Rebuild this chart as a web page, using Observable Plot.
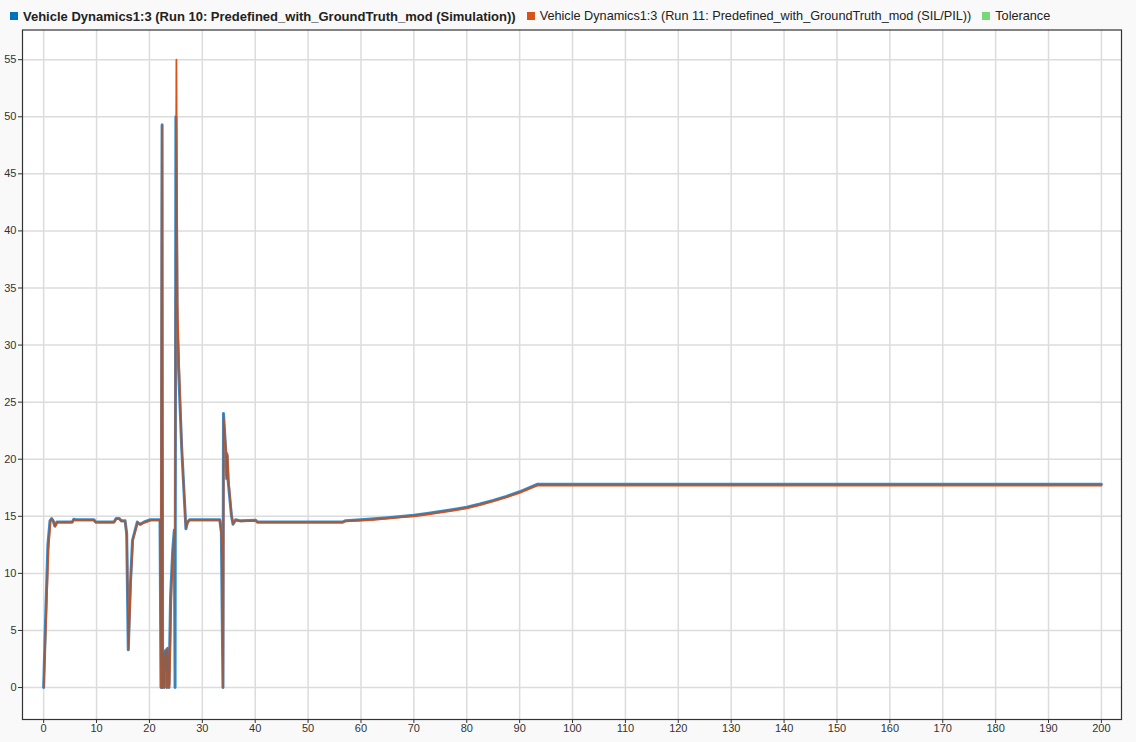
<!DOCTYPE html>
<html>
<head>
<meta charset="utf-8">
<script src="https://cdn.jsdelivr.net/npm/d3@7"></script>
<script src="https://cdn.jsdelivr.net/npm/@observablehq/plot@0.6"></script>
<style>
  html, body { margin: 0; padding: 0; background: #f9f9f9; }
  body { width: 1136px; height: 742px; overflow: hidden; font-family: "Liberation Sans", Arial, sans-serif; }
  #legend { height: 29px; display: flex; align-items: center; padding-left: 10px; font-size: 12.7px; color: #222; box-sizing: border-box; padding-top: 3px; }
  .item { display: flex; align-items: center; margin-right: 11px; white-space: nowrap; }
  .sw { width: 8px; height: 8px; margin-right: 5px; display: inline-block; }
  .bold { font-weight: bold; font-size: 13px; }
</style>
</head>
<body>
<div id="legend"></div>
<div id="chart"></div>
<script>
// Series labels and colours
const seriesNames = [
  "Vehicle Dynamics1:3 (Run 10: Predefined_with_GroundTruth_mod (Simulation))",
  "Vehicle Dynamics1:3 (Run 11: Predefined_with_GroundTruth_mod (SIL/PIL))",
  "Tolerance"
];
const seriesColors = ["#0072BD", "#D95319", "#77D877"];

// Run 10 (Simulation)
const simTime = [0, 0.3, 0.8, 1.2, 1.5, 1.8, 2.1, 2.5, 5.4, 5.7,
  6.0, 9.5, 9.8, 13.3, 13.7, 14.3, 14.7, 15.4, 15.7, 16.0,
  16.4, 16.8, 17.7, 18.2, 19.0, 20.2, 22.0, 22.2, 22.4, 22.5,
  22.7, 22.8, 22.9, 23.0, 23.2, 23.3, 23.5, 23.7, 24.0, 24.4,
  24.7, 24.85, 25.0, 25.25, 25.5, 26.1, 26.9, 27.2, 27.6, 33.3,
  33.6, 33.9, 34.0, 34.5, 34.6, 34.7, 34.9, 35.5, 35.8, 36.3,
  37.2, 40.1, 40.4, 56.5, 57.0, 60, 62.5, 65, 67.5, 70,
  72.5, 75, 77.5, 80, 82.5, 85, 87.5, 90, 93.3, 200];
const simValue = [0, 5, 12.5, 14.6, 14.8, 14.6, 14.15, 14.5, 14.5, 14.75,
  14.7, 14.7, 14.5, 14.5, 14.8, 14.8, 14.6, 14.6, 13.5, 3.3,
  9, 12.9, 14.5, 14.3, 14.5, 14.7, 14.7, 0, 49.3, 0,
  3.1, 0, 3.2, 1.5, 3.3, 0, 3.4, 0, 8, 12,
  13.8, 0, 50, 32, 28, 21, 13.9, 14.5, 14.7, 14.7,
  13.6, 0, 24, 20.2, 18.3, 20.3, 18, 15.1, 14.3, 14.7,
  14.6, 14.65, 14.5, 14.5, 14.6, 14.7, 14.78, 14.88, 14.98, 15.1,
  15.25, 15.42, 15.6, 15.8, 16.08, 16.4, 16.75, 17.15, 17.8, 17.8];

// Run 11 (SIL/PIL)
const silTime = [0, 0.4, 0.9, 1.3, 1.6, 1.9, 2.2, 2.6, 5.4, 5.7,
  6.0, 9.5, 9.8, 13.3, 13.7, 14.3, 14.7, 15.4, 15.75, 16.05,
  16.5, 16.9, 17.8, 18.3, 19.1, 20.3, 22.0, 22.15, 22.35, 22.45,
  22.6, 22.75, 22.85, 23.0, 23.1, 23.25, 23.4, 23.6, 23.8, 24.2,
  24.6, 24.85, 25.1, 25.3, 25.5, 26.1, 26.9, 27.2, 27.6, 33.3,
  33.65, 33.95, 34.05, 34.5, 34.65, 34.75, 34.95, 35.5, 35.8, 36.3,
  37.2, 40.1, 40.4, 56.5, 57.0, 60, 62.5, 65, 67.5, 70,
  72.5, 75, 77.5, 80, 82.5, 85, 87.5, 90, 93.4, 200];
const silValue = [0, 5, 12, 14.6, 14.75, 14.55, 14.1, 14.45, 14.45, 14.7,
  14.65, 14.65, 14.45, 14.45, 14.75, 14.75, 14.55, 14.55, 13, 3.4,
  9.5, 13, 14.45, 14.25, 14.45, 14.65, 14.65, 0, 49.2, 0,
  3.0, 0, 2.8, 0.5, 3.2, 0, 3.5, 0, 0.3, 9,
  12.5, 13.7, 55, 33.6, 30, 21, 14, 14.4, 14.65, 14.65,
  13.4, 0, 23.6, 20.5, 18.5, 20.5, 18.3, 15.2, 14.35, 14.65,
  14.55, 14.6, 14.45, 14.45, 14.55, 14.62, 14.7, 14.8, 14.9, 15.0,
  15.15, 15.32, 15.5, 15.7, 15.98, 16.3, 16.65, 17.05, 17.7, 17.7];

// Axis ticks
const xTicks = d3.range(0, 201, 10);
const yTicks = d3.range(0, 56, 5);

const sim = simTime.map((t, i) => ({t, v: simValue[i]}));
const sil = silTime.map((t, i) => ({t, v: silValue[i]}));

// Legend
const legend = document.getElementById("legend");
seriesNames.forEach((name, i) => {
  const item = document.createElement("div");
  item.className = "item" + (i === 0 ? " bold" : "");
  const sw = document.createElement("span");
  sw.className = "sw";
  sw.style.background = seriesColors[i];
  item.appendChild(sw);
  item.appendChild(document.createTextNode(name));
  legend.appendChild(item);
});

const chart = Plot.plot({
  width: 1136,
  height: 713,
  marginLeft: 22,
  marginRight: 15,
  marginTop: 0.5,
  marginBottom: 23,
  style: {fontFamily: "'Liberation Sans', Arial, sans-serif", fontSize: "11px", color: "#333", background: "transparent"},
  x: {domain: [-4, 203.8], ticks: xTicks, label: null, tickSize: 4, tickPadding: 1},
  y: {domain: [-2.8, 57.6], ticks: yTicks, label: null, tickSize: 4, tickPadding: 2},
  marks: [
    Plot.frame({fill: "white", stroke: null}),
    Plot.gridX(xTicks, {stroke: "#dcdcdc", strokeOpacity: 1, strokeWidth: 1.5}),
    Plot.gridY(yTicks, {stroke: "#dcdcdc", strokeOpacity: 1, strokeWidth: 1.5}),
    Plot.line(sim, {x: "t", y: "v", stroke: "#3a8fd0", strokeWidth: 3}),
    Plot.line(sil, {x: "t", y: "v", stroke: seriesColors[1], strokeWidth: 1.8}),
    Plot.line(sim, {x: "t", y: "v", stroke: "#5a6470", strokeWidth: 1.3, strokeOpacity: 0.55}),
    Plot.frame({stroke: "#333", strokeWidth: 1.2}),
    Plot.axisX({ticks: xTicks, tickSize: 4, tickPadding: 1, stroke: "#333"}),
    Plot.axisY({ticks: yTicks, tickSize: 4, tickPadding: 2, stroke: "#333"})
  ]
});
document.getElementById("chart").appendChild(chart);
</script>
</body>
</html>
